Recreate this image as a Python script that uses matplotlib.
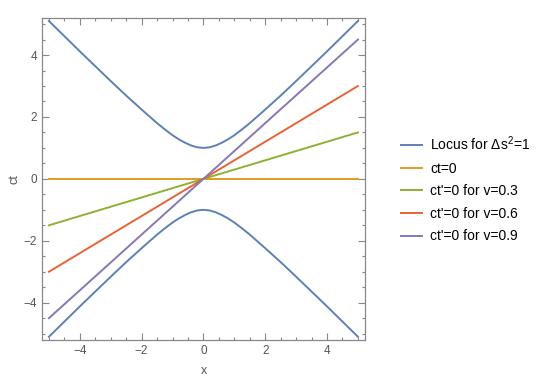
import matplotlib.pyplot as plt
from matplotlib.ticker import MultipleLocator
import numpy as np

plt.rcParams['font.family'] = ['Liberation Sans', 'DejaVu Sans']
plt.rcParams['mathtext.default'] = 'regular'

# hyperbola samples (upper branch; lower branch is its mirror)
locus_x = [-5.0, -4.5, -4.0, -3.5, -3.0, -2.5, -2.0, -1.75, -1.5, -1.25, -1.0, -0.8, -0.6, -0.4, -0.2, 0.0,
           0.2, 0.4, 0.6, 0.8, 1.0, 1.25, 1.5, 1.75, 2.0, 2.5, 3.0, 3.5, 4.0, 4.5, 5.0]
locus_upper = [5.10, 4.61, 4.12, 3.64, 3.16, 2.69, 2.24, 2.02, 1.80, 1.60, 1.41, 1.28, 1.17, 1.08, 1.02, 1.00,
               1.02, 1.08, 1.17, 1.28, 1.41, 1.60, 1.80, 2.02, 2.24, 2.69, 3.16, 3.64, 4.12, 4.61, 5.10]
locus_lower = [-v for v in locus_upper]

line_x = [-5, 5]
ct0 = [0, 0]
v03 = [-1.5, 1.5]
v06 = [-3.0, 3.0]
v09 = [-4.5, 4.5]

labels = ['Locus for Δs$^2$=1', 'ct=0', "ct'=0 for v=0.3", "ct'=0 for v=0.6", "ct'=0 for v=0.9"]
colors = ['#5E81B5', '#E19C24', '#8FB032', '#EB6235', '#8778B3']

fig = plt.figure(figsize=(5.4, 3.81), dpi=100)
ax = fig.add_axes([0.078, 0.108, 0.598, 0.845])

lw = 1.4
h1, = ax.plot(locus_x, locus_upper, color=colors[0], lw=lw)
ax.plot(locus_x, locus_lower, color=colors[0], lw=lw)
h2, = ax.plot(line_x, ct0, color=colors[1], lw=lw)
h3, = ax.plot(line_x, v03, color=colors[2], lw=lw)
h4, = ax.plot(line_x, v06, color=colors[3], lw=lw)
h5, = ax.plot(line_x, v09, color=colors[4], lw=lw)

ax.set_xlim(-5.22, 5.23)
ax.set_ylim(-5.2, 5.2)
ax.xaxis.set_major_locator(MultipleLocator(2))
ax.yaxis.set_major_locator(MultipleLocator(2))
ax.xaxis.set_minor_locator(MultipleLocator(0.5))
ax.yaxis.set_minor_locator(MultipleLocator(0.5))

gray = '#888888'
for s in ax.spines.values():
    s.set_color(gray)
    s.set_linewidth(0.9)
ax.tick_params(which='both', direction='in', top=True, right=True, color=gray,
               labelcolor='#555555', labelsize=8.5, width=0.8)
ax.tick_params(which='major', length=5)
ax.tick_params(which='minor', length=2.5)
ax.set_xticks([-4, -2, 0, 2, 4])
ax.set_xticklabels(['\u22124', '\u22122', '0', '2', '4'])
ax.set_yticks([-4, -2, 0, 2, 4])
ax.set_yticklabels(['\u22124', '\u22122', '0', '2', '4'])

ax.set_xlabel('x', color='#555555', fontsize=9, labelpad=6)
ax.set_ylabel('ct', color='#555555', fontsize=9, labelpad=2)

fig.legend([h1, h2, h3, h4, h5], labels, loc='center left', bbox_to_anchor=(0.72, 0.504),
           frameon=False, fontsize=10, handlelength=1.5, handletextpad=0.6, labelspacing=0.62)

fig.savefig('out.png', dpi=100)
